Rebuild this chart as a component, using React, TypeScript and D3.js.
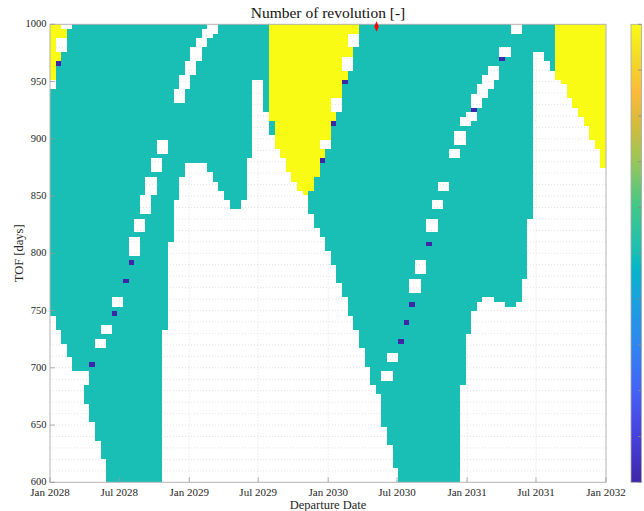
import React from 'react';
import * as d3 from 'd3';

// ---------------- data ----------------
const startDate = new Date(2028, 0, 1);
const endDate = new Date(2032, 0, 1);
const tofMin = 600;
const tofMax = 1000;
const gridPoints = 100; // pcolor grid: 100 x 100 points -> 99 x 99 cells

// first TOF row (index) of the feasible region, per departure column
const lowerRow = [
  36, 33, 30, 27, 24, 24, 17, 13, 9, 5,
  0, 0, 0, 0, 0, 0, 0, 0, 0, 0,
  33, 52, 61, 66, 69, 69, 69, 69, 67, 65,
  63, 61, 59, 59, 61, 70, 87, 87, 80, 75,
  72, 70, 67, 65, 63, 62, 58, 55, 53, 50,
  47, 43, 40, 36, 33, 29, 25, 21, 19, 12,
  8, 3,
  0, 0, 0, 0, 0, 0, 0, 0, 0, 0, 0,
  21, 32, 37, 39, 40, 40, 39, 39, 38, 38, 39, 44,
  57, 93, 93, 91, 89, 87, 86, 83, 81, 79, 77, 74, 72, 68,
];

// first TOF row (index) with 2 revolutions, per departure column (99 = none)
const twoRevRow = [
  87, 91, 96, 99, 99, 99, 99, 99, 99, 99,
  99, 99, 99, 99, 99, 99, 99, 99, 99, 99,
  99, 99, 99, 99, 99, 99, 99, 99, 99, 99,
  99, 99, 99, 99, 99, 99, 99, 99, 99, 78,
  72, 70, 67, 65, 63, 62, 63, 66, 70, 74,
  78, 83, 87, 92, 97, 99, 99, 99, 99, 99,
  99, 99, 99, 99, 99, 99, 99, 99, 99, 99,
  99, 99, 99, 99, 99, 99, 99, 99, 99, 99,
  99, 99, 99, 99, 99, 99, 99, 99, 99, 99,
  87, 86, 83, 81, 79, 77, 74, 72, 68,
];

// unconverged cells (NaN): [column, row, width, height]
const nanHoles: [number, number, number, number][] = [
  [0, 85, 1, 2], [1, 93, 2, 3], [2, 98, 2, 1], [6, 21, 1, 3],
  [8, 29, 2, 2], [9, 32, 2, 2], [11, 38, 2, 2], [14, 49, 2, 4],
  [15, 54, 2, 3], [16, 58, 2, 4], [17, 62, 2, 4], [18, 67, 2, 3],
  [19, 71, 2, 3], [22, 82, 2, 3], [23, 85, 2, 3], [24, 88, 2, 3],
  [25, 91, 2, 3], [26, 94, 2, 2], [27, 96, 2, 2], [28, 97, 2, 2],
  [48, 72, 2, 2], [50, 80, 2, 3], [52, 89, 2, 3], [53, 94, 2, 3],
  [59, 22, 2, 2], [60, 26, 2, 2], [64, 41, 2, 3], [65, 45, 2, 3],
  [67, 54, 2, 3], [68, 59, 2, 2], [69, 63, 2, 2], [71, 70, 2, 2],
  [72, 73, 2, 3], [73, 77, 2, 2], [74, 78, 2, 2], [75, 81, 2, 3],
  [76, 83, 2, 3], [77, 85, 2, 3], [78, 87, 2, 3], [80, 92, 2, 2],
  [82, 97, 2, 2],
];

// cells with 0 revolutions: [column, row]
const zeroRevCells: [number, number][] = [
  [1, 90], [7, 25], [11, 36], [13, 43], [14, 47],
  [48, 69], [50, 77], [52, 86],
  [62, 30], [63, 34], [64, 38], [67, 51], [75, 80], [80, 91],
];

const optimumDate = new Date(2030, 4, 8);
const optimumTof = 998;

const xTickDates = [
  new Date(2028, 0, 1), new Date(2028, 6, 1), new Date(2029, 0, 1), new Date(2029, 6, 1),
  new Date(2030, 0, 1), new Date(2030, 6, 1), new Date(2031, 0, 1), new Date(2031, 6, 1),
  new Date(2032, 0, 1),
];
const xTickLabels = [
  'Jan 2028', 'Jul 2028', 'Jan 2029', 'Jul 2029', 'Jan 2030',
  'Jul 2030', 'Jan 2031', 'Jul 2031', 'Jan 2032',
];
const yTicks = [600, 650, 700, 750, 800, 850, 900, 950, 1000];
const colorbarTicks = [0, 0.2, 0.4, 0.6, 0.8, 1, 1.2, 1.4, 1.6, 1.8, 2];

// parula-like colormap
const parulaPos = [0, 0.1, 0.2, 0.3, 0.4, 0.47, 0.5, 0.6, 0.7, 0.78, 0.85, 0.92, 1];
const parulaCol = [
  '#3e26a8', '#4741dd', '#4462f7', '#2f86f1', '#1aa2de', '#06b6c8', '#19bfb4',
  '#41c78a', '#98c65a', '#d4bb3c', '#fbba3a', '#f3d72a', '#f9fb15',
];

// ---------------- layout ----------------
const W = 644;
const H = 511;
const L = 50, R = 606, T = 24.3, B = 482.3;
const CB_X = 631, CB_W = 10.5;
const serif = "'Liberation Serif', 'Times New Roman', 'DejaVu Serif', serif";

export default function App() {
  const x = d3.scaleTime().domain([startDate, endDate]).range([L, R]);
  const y = d3.scaleLinear().domain([tofMin, tofMax]).range([B, T]);
  const nCells = gridPoints - 1;
  const span = endDate.getTime() - startDate.getTime();
  const depDates = d3.range(gridPoints).map(i => new Date(startDate.getTime() + (i * span) / nCells));
  const tofs = d3.range(gridPoints).map(j => tofMin + (j * (tofMax - tofMin)) / nCells);

  const color = d3.scaleLinear<string>()
    .domain(parulaPos.map(p => p * 2))
    .range(parulaCol)
    .interpolate(d3.interpolateRgb);

  const grid: (number | null)[][] = d3.range(nCells).map(i =>
    d3.range(nCells).map(j => (j < lowerRow[i] ? null : j >= twoRevRow[i] ? 2 : 1))
  );
  nanHoles.forEach(([c, r, w, h]) => {
    for (let dc = 0; dc < w; dc++)
      for (let dr = 0; dr < h; dr++)
        if (grid[c + dc] && r + dr < nCells) grid[c + dc][r + dr] = null;
  });
  zeroRevCells.forEach(([c, r]) => { grid[c][r] = 0; });

  const rects: JSX.Element[] = [];
  for (let i = 0; i < nCells; i++) {
    let j = 0;
    while (j < nCells) {
      const v = grid[i][j];
      if (v === null) { j++; continue; }
      let k = j;
      while (k + 1 < nCells && grid[i][k + 1] === v) k++;
      const x0 = x(depDates[i]);
      const x1 = x(depDates[i + 1]);
      const y0 = y(tofs[k + 1]);
      const y1 = y(tofs[j]);
      rects.push(
        <rect key={`${i}-${j}`} x={x0} y={y0} width={x1 - x0} height={y1 - y0}
          fill={color(v)} shapeRendering="crispEdges" />
      );
      j = k + 1;
    }
  }

  const hGrid = d3.range(610, 1000, 10);
  const cbScale = d3.scaleLinear().domain([0, 2]).range([B, T]);
  const diamond = d3.symbol().type(d3.symbolDiamond).size(24)();

  return (
    <div style={{ position: 'fixed', left: 0, top: 0 }}>
      <svg width={W} height={H} style={{ display: 'block', background: '#fff' }}>
        <defs>
          <linearGradient id="parula" x1="0" y1="1" x2="0" y2="0">
            {parulaPos.map((p, idx) => (
              <stop key={idx} offset={p} stopColor={parulaCol[idx]} />
            ))}
          </linearGradient>
        </defs>
        {/* grid */}
        <g stroke="#d6d6d6" strokeWidth={0.7} strokeDasharray="1,2">
          {hGrid.map(t => (
            <line key={t} x1={L} x2={R} y1={y(t)} y2={y(t)} />
          ))}
          {xTickDates.slice(1, -1).map((d, i) => (
            <line key={i} x1={x(d)} x2={x(d)} y1={T} y2={B} />
          ))}
        </g>
        {/* cells */}
        <g>{rects}</g>
        {/* axes box */}
        <rect x={L} y={T} width={R - L} height={B - T} fill="none" stroke="#b4b4b4" strokeWidth={1} />
        {/* optimum marker */}
        <path d={diamond || ''} transform={`translate(${x(optimumDate)},${y(optimumTof)}) scale(0.85,1.15)`} fill="#ff0000" />
        {/* ticks */}
        <g stroke="#9a9a9a" strokeWidth={0.8}>
          {xTickDates.map((d, i) => (
            <line key={i} x1={x(d)} x2={x(d)} y1={B} y2={B - 5} />
          ))}
          {yTicks.map(t => (
            <line key={t} x1={L} x2={L + 5} y1={y(t)} y2={y(t)} />
          ))}
        </g>
        {/* tick labels */}
        <g fontFamily={serif} fontSize={11} fill="#262626">
          {xTickDates.map((d, i) => (
            <text key={i} x={x(d)} y={495.5} textAnchor="middle">{xTickLabels[i]}</text>
          ))}
        </g>
        <g fontFamily={serif} fontSize={10.5} fill="#262626">
          {yTicks.map(t => (
            <text key={t} x={46.5} y={y(t)} dy="0.3em" textAnchor="end">{t}</text>
          ))}
        </g>
        {/* labels */}
        <text x={(L + R) / 2} y={17.5} textAnchor="middle" fontFamily={serif} fontSize={15.5} fill="#111">
          Number of revolution [-]
        </text>
        <text x={(L + R) / 2} y={508.5} textAnchor="middle" fontFamily={serif} fontSize={12.5} fill="#262626">
          Departure Date
        </text>
        <text transform={`translate(22.5,${(T + B) / 2}) rotate(-90)`} textAnchor="middle" fontFamily={serif} fontSize={12.5} fill="#262626">
          TOF [days]
        </text>
        {/* colorbar (its tick labels lie outside the picture in the reference) */}
        <rect x={CB_X} y={T} width={CB_W} height={B - T} fill="url(#parula)" />
        <rect x={CB_X} y={T} width={CB_W} height={B - T} fill="none" stroke="#a8a8a8" strokeWidth={0.8} />
        <g stroke="#8a8a8a" strokeWidth={0.8}>
          {colorbarTicks.map(t => (
            <line key={t} x1={CB_X + CB_W} x2={CB_X + CB_W - 3.5} y1={cbScale(t)} y2={cbScale(t)} />
          ))}
        </g>
      </svg>
    </div>
  );
}
